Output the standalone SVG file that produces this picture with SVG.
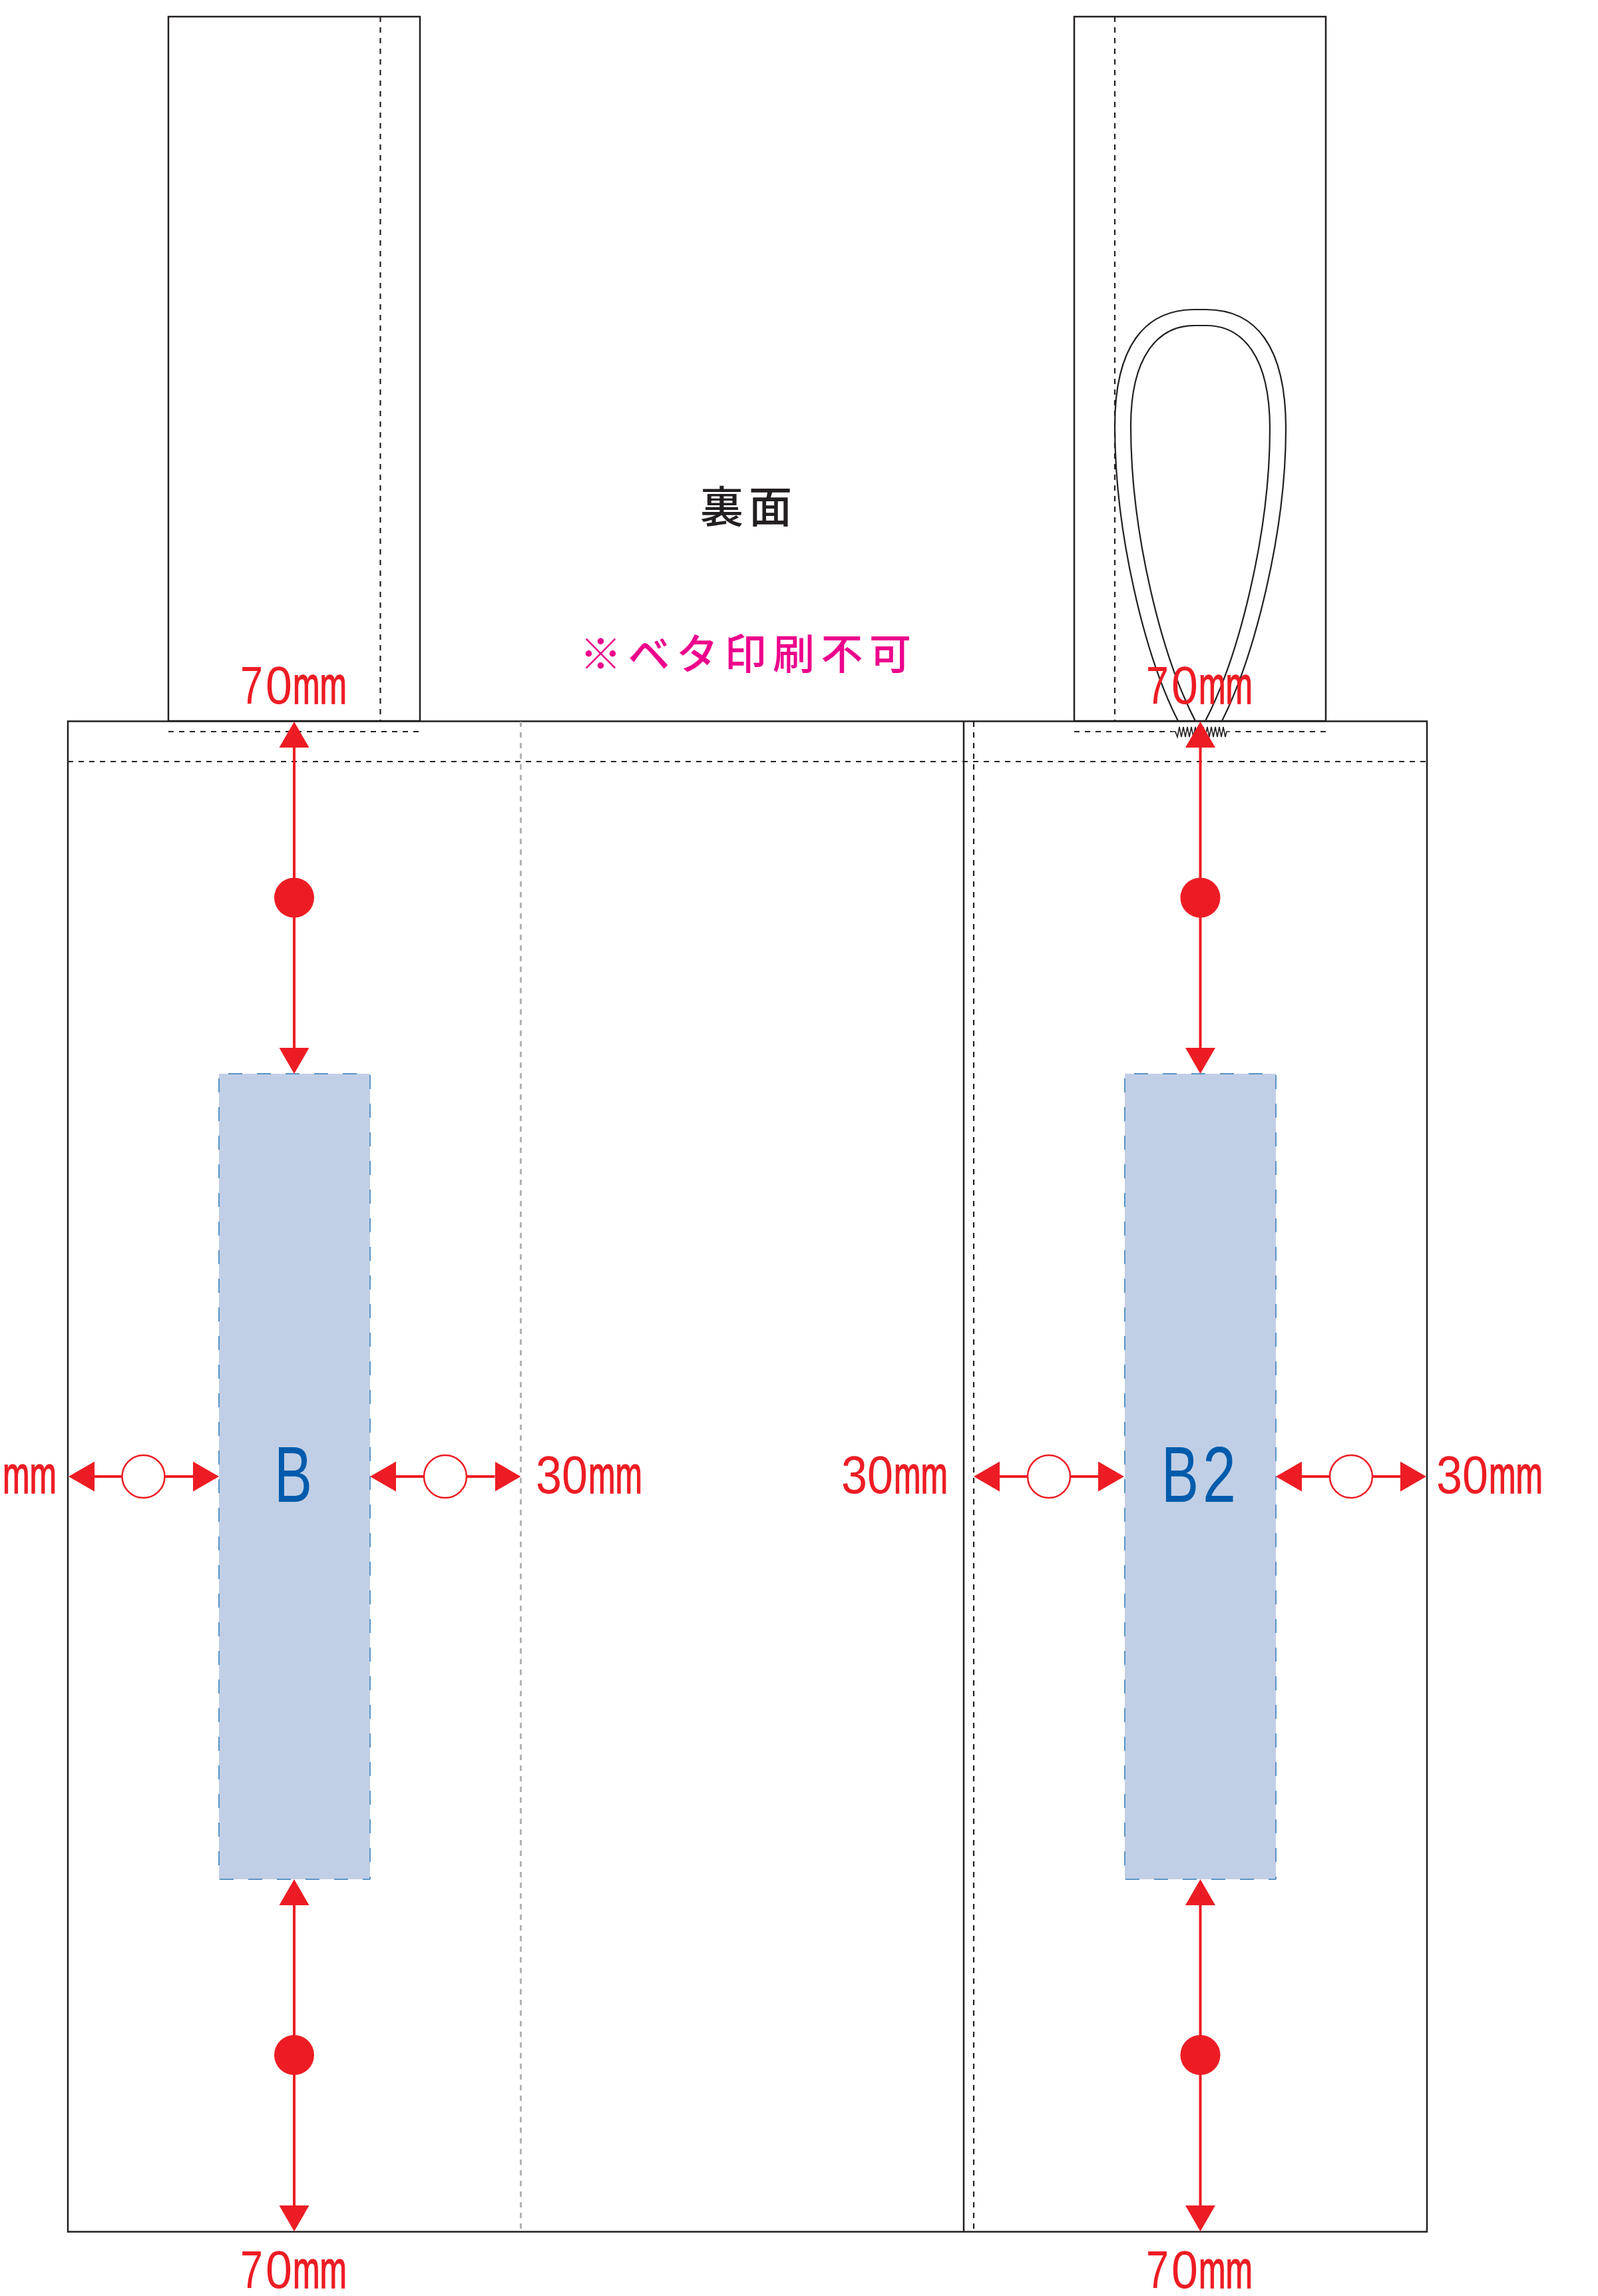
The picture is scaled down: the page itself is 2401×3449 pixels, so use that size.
<svg xmlns="http://www.w3.org/2000/svg" width="2401" height="3449" viewBox="0 0 2401 3449">
<style>
.o{fill:none;stroke:#231f20;stroke-width:2.5}
.h{fill:none;stroke:#231f20;stroke-width:2.2}
.d{fill:none;stroke:#231f20;stroke-width:2.2;stroke-dasharray:8 8}
.g{fill:none;stroke:#b3b3b3;stroke-width:3;stroke-dasharray:8 8}
.a{fill:#c1cfe6}
.s{fill:none;stroke:#5b94c4;stroke-width:2;stroke-dasharray:21 22}
.c{fill:none;stroke:#ed1c24;stroke-width:4;marker-start:url(#ah);marker-end:url(#ah)}
.f{fill:#ed1c24}
.e{fill:#fff;stroke:#ed1c24;stroke-width:2.5}
.t{font-family:"Liberation Sans",sans-serif;font-size:80px;fill:#ed1c24}
.m{stroke:#ed1c24;stroke-width:1.6}
.b{font-family:"Liberation Sans",sans-serif;font-size:119px;fill:#005bac}
.j{font-family:"Noto Sans CJK JP",sans-serif;font-weight:500}
</style>
<defs>
<marker id="ah" markerUnits="userSpaceOnUse" markerWidth="40" markerHeight="46" refX="0" refY="23" orient="auto-start-reverse" viewBox="0 0 40 46"><path class="f" d="M0 0.5L39 23L0 45.500z"/></marker>
</defs>
<rect width="2401" height="3449" fill="#fff"/>
<g id="strap-left">
<rect class="o" x="253" y="25" width="378" height="1058"/>
<path class="d" d="M571.500 25V1083M253 1099H631"/>
</g>
<g id="strap-right">
<rect class="o" x="1614" y="25" width="378" height="1058"/>
<path class="d" d="M1675 25V1083M1614 1099H1760M1992 1099H1848"/>
</g>
<g id="handle">
<path class="h" d="M1770 1083C1720 985 1675 800 1675 640C1675 520 1720 465 1795 465L1812 465C1887 465 1932 520 1932 644C1932 800 1885 985 1836 1083"/>
<path class="h" d="M1796 1083C1745 985 1699 800 1699 640C1699 535 1740 489 1795 489L1812 489C1867 489 1908 535 1908 644C1908 800 1862 985 1811 1083"/>
<path class="h" style="stroke-width:1.6" d="M1760 1099H1766L1769 1107L1772 1092L1775 1107L1778 1092L1781 1107L1784 1092L1787 1107L1790 1092L1793 1107L1796 1092L1799 1107L1802 1092L1805 1107L1808 1092L1811 1107L1814 1092L1817 1107L1820 1092L1823 1107L1826 1092L1829 1107L1832 1092L1835 1107L1838 1092L1841 1107L1843 1099H1848"/>
</g>
<g id="bag">
<rect class="o" x="102" y="1083.500" width="2042" height="2269"/>
<path class="o" d="M1448 1083.500V3352.500"/>
<path class="d" d="M1463 1084V3352M102 1144H2144"/>
<path class="g" d="M782.500 1084V3352"/>
</g>
<g id="area-b">
<rect class="a" x="329" y="1613" width="227" height="1210"/>
<path class="s" stroke-dashoffset="29" d="M329 1613H556V2823"/>
<path class="s" stroke-dashoffset="36" d="M329 1613V2823H556"/>
<text class="b"><tspan x="412" y="2256" textLength="57" lengthAdjust="spacingAndGlyphs">B</tspan></text>
</g>
<g id="area-b2">
<rect class="a" x="1690" y="1613" width="227" height="1210"/>
<path class="s" stroke-dashoffset="29" d="M1690 1613H1917V2823"/>
<path class="s" stroke-dashoffset="36" d="M1690 1613V2823H1917"/>
<text class="b"><tspan x="1745" y="2256" textLength="56" lengthAdjust="spacingAndGlyphs">B</tspan><tspan x="1807" y="2256" textLength="50" lengthAdjust="spacingAndGlyphs">2</tspan></text>
</g>
<g id="connectors">
<path class="c" d="M442 1123V1574"/>
<path class="c" d="M442 2862V3313"/>
<path class="c" d="M1803.500 1123V1574"/>
<path class="c" d="M1803.500 2862V3313"/>
<path class="c" d="M142 2218H290"/>
<path class="c" d="M595 2218H743.500"/>
<path class="c" d="M1502 2218H1650"/>
<path class="c" d="M1956 2218H2104"/>
</g>
<g id="dots">
<circle class="f" cx="442" cy="1348.500" r="30"/>
<circle class="f" cx="442" cy="3087" r="30"/>
<circle class="f" cx="1803.500" cy="1348.500" r="30"/>
<circle class="f" cx="1803.500" cy="3087" r="30"/>
<circle class="e" cx="215.500" cy="2218" r="32"/>
<circle class="e" cx="669" cy="2218" r="32"/>
<circle class="e" cx="1576" cy="2218" r="32"/>
<circle class="e" cx="2030" cy="2218" r="32"/>
</g>
<g id="labels">
<text class="t"><tspan x="361" y="1057" textLength="34" lengthAdjust="spacingAndGlyphs">7</tspan><tspan x="399" y="1057" textLength="40" lengthAdjust="spacingAndGlyphs">0</tspan><tspan class="m" x="440" y="1057" textLength="81" lengthAdjust="spacingAndGlyphs">mm</tspan></text>
<text class="t"><tspan x="1722" y="1057" textLength="34" lengthAdjust="spacingAndGlyphs">7</tspan><tspan x="1760" y="1057" textLength="40" lengthAdjust="spacingAndGlyphs">0</tspan><tspan class="m" x="1801" y="1057" textLength="81" lengthAdjust="spacingAndGlyphs">mm</tspan></text>
<text class="t"><tspan x="361" y="3437" textLength="34" lengthAdjust="spacingAndGlyphs">7</tspan><tspan x="399" y="3437" textLength="40" lengthAdjust="spacingAndGlyphs">0</tspan><tspan class="m" x="440" y="3437" textLength="81" lengthAdjust="spacingAndGlyphs">mm</tspan></text>
<text class="t"><tspan x="1722" y="3437" textLength="34" lengthAdjust="spacingAndGlyphs">7</tspan><tspan x="1760" y="3437" textLength="40" lengthAdjust="spacingAndGlyphs">0</tspan><tspan class="m" x="1801" y="3437" textLength="81" lengthAdjust="spacingAndGlyphs">mm</tspan></text>
<text class="t"><tspan x="-80" y="2243" textLength="78" lengthAdjust="spacingAndGlyphs">30</tspan><tspan class="m" x="4" y="2243" textLength="81" lengthAdjust="spacingAndGlyphs">mm</tspan></text>
<text class="t"><tspan x="805" y="2243" textLength="78" lengthAdjust="spacingAndGlyphs">30</tspan><tspan class="m" x="884" y="2243" textLength="81" lengthAdjust="spacingAndGlyphs">mm</tspan></text>
<text class="t"><tspan x="1264" y="2243" textLength="78" lengthAdjust="spacingAndGlyphs">30</tspan><tspan class="m" x="1343" y="2243" textLength="81" lengthAdjust="spacingAndGlyphs">mm</tspan></text>
<text class="t"><tspan x="2158" y="2243" textLength="78" lengthAdjust="spacingAndGlyphs">30</tspan><tspan class="m" x="2237" y="2243" textLength="81" lengthAdjust="spacingAndGlyphs">mm</tspan></text>
<text class="j" x="1052" y="785" font-size="65" letter-spacing="8" fill="#231f20">裏面</text>
<text class="j" x="871" y="1005" font-size="63" letter-spacing="9.500" fill="#ec008c">※ベタ印刷不可</text>
</g>
</svg>
